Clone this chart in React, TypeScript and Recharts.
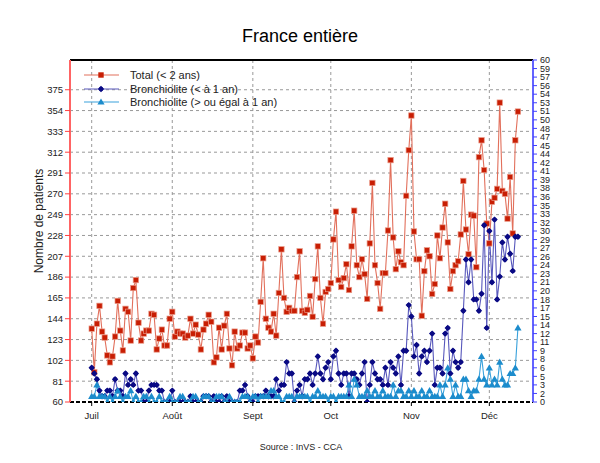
import React from 'react';
import { ComposedChart, Line, XAxis, YAxis, CartesianGrid, ReferenceLine } from 'recharts';

const FONT = "'Liberation Sans', Arial, Helvetica, sans-serif";

// Daily values from 1 July onward (one value per day)
const totalMoins2Ans = [
  134, 90, 139, 157, 131, 125, 107, 100, 106, 126,
  162, 132, 112, 154, 151, 122, 175, 183, 140, 122,
  129, 132, 132, 149, 148, 113, 124, 133, 117, 117,
  144, 151, 126, 131, 129, 129, 125, 127, 144, 129,
  138, 128, 113, 133, 139, 148, 141, 100, 105, 135,
  113, 137, 149, 114, 97, 131, 114, 117, 130, 130,
  114, 117, 104, 126, 120, 161, 205, 144, 135, 131,
  149, 127, 170, 214, 165, 151, 155, 152, 152, 186,
  212, 152, 150, 153, 167, 146, 184, 217, 165, 139,
  171, 174, 180, 224, 252, 183, 176, 185, 199, 173,
  217, 253, 198, 186, 204, 189, 164, 220, 281, 198,
  180, 154, 190, 190, 233, 304, 226, 194, 212, 201,
  198, 268, 314, 349, 232, 204, 204, 147, 192, 213,
  207, 169, 179, 228, 205, 236, 260, 221, 174, 192,
  198, 202, 229, 283, 234, 209, 249, 248, 196, 307,
  324, 294, 240, 220, 262, 266, 275, 362, 273, 270,
  245, 287, 230, 324, 353,
];

const bronchioliteMoins1An = [
  6, 5, 4, 2, 1, 1, 2, 2, 1, 4, 2, 2, 1, 5, 3, 4, 3, 5, 2, 2, 0, 0, 2, 3, 3, 3, 2, 2, 0, 0, 0,
  2, 0, 0, 0, 0, 0, 0, 1, 0, 0, 0, 0, 1, 1, 1, 0, 1, 0, 0, 1, 0, 1, 0, 0, 0, 0, 2, 2, 3, 1, 0,
  0, 1, 1, 1, 1, 2, 1, 1, 1, 4, 2, 3, 3, 7, 5, 5, 0, 2, 3, 1, 4, 4, 5, 3, 5, 8, 5, 4, 6, 7,
  4, 8, 9, 5, 3, 5, 5, 1, 5, 5, 4, 3, 5, 7, 0, 3, 7, 5, 4, 4, 3, 6, 3, 7, 6, 5, 8, 3, 9, 9, 17,
  15, 8, 10, 5, 8, 9, 7, 9, 12, 3, 6, 6, 5, 12, 13, 5, 9, 7, 6, 7, 16, 25, 21, 25, 18, 18, 16, 19, 31, 13,
  30, 21, 32, 18, 22, 28, 25, 29, 26, 23, 29, 29,
];

const bronchiolitePlus1An = [
  1, 1, 3, 1, 1, 1, 0, 1, 0, 1, 2, 1, 0, 1, 1, 2, 0, 1, 0, 0, 1, 1, 0, 1, 0, 0, 1, 0, 0, 0, 1,
  0, 0, 0, 1, 1, 0, 0, 0, 1, 1, 0, 0, 1, 1, 1, 0, 0, 1, 1, 1, 0, 0, 1, 0, 0, 0, 0, 1, 1, 1, 0,
  1, 1, 0, 1, 1, 1, 1, 2, 2, 1, 1, 0, 0, 1, 1, 1, 0, 1, 1, 1, 1, 1, 0, 1, 1, 2, 1, 1, 1, 0,
  1, 1, 0, 1, 1, 1, 1, 3, 1, 4, 3, 1, 1, 1, 2, 1, 1, 2, 1, 1, 2, 1, 1, 1, 3, 1, 2, 2, 1, 1, 2,
  1, 2, 1, 1, 2, 1, 1, 2, 1, 1, 1, 3, 1, 3, 6, 4, 1, 3, 1, 1, 4, 4, 2, 1, 2, 2, 4, 8, 4, 3,
  6, 3, 4, 3, 7, 4, 3, 3, 5, 5, 6, 13,
];

const monthLabels = ['Juil', 'Août', 'Sept', 'Oct', 'Nov', 'Déc'];
const monthStartDays = [1, 32, 63, 93, 124, 154];

const leftTicks = [60, 81, 102, 123, 144, 165, 186, 207, 228, 249, 270, 291, 312, 333, 354, 375];
const rightTicks = [
  0, 1.5, 3, 4.5, 6, 7.5, 9, 10.5, 12, 13.5, 15, 16.5, 18, 19.5, 21, 22.5, 24, 25.5, 27, 28.5,
  30, 31.5, 33, 34.5, 36, 37.5, 39, 40.5, 42, 43.5, 45, 46.5, 48, 49.5, 51, 52.5, 54, 55.5, 57, 58.5, 60,
];

const data = totalMoins2Ans.map((t, i) => ({
  day: i + 1,
  total: t,
  lt1: bronchioliteMoins1An[i],
  ge1: bronchiolitePlus1An[i],
}));

const RED_LINE = '#e2705c';
const RED_MARK = '#c81e04';
const NAVY_LINE = '#5858bc';
const NAVY_MARK = '#0a0a84';
const CYAN_LINE = '#3aa2dc';
const CYAN_MARK = '#1c8ccc';

const squareDot = (p: any) => {
  if (p.cx == null || p.cy == null) return <g key={'s' + p.index} />;
  return (
    <rect key={'s' + p.index} x={p.cx - 2.7} y={p.cy - 2.7} width={5.4} height={5.4}
      fill={RED_MARK} stroke="#ea9a88" strokeWidth={0.7} />
  );
};

const navyDot = (p: any) => {
  if (p.cx == null || p.cy == null) return <g key={'n' + p.index} />;
  const { cx, cy } = p;
  return (
    <g key={'n' + p.index}>
      <path d={`M${cx},${cy - 3.2} L${cx + 3.2},${cy} L${cx},${cy + 3.2} L${cx - 3.2},${cy} Z`} fill={NAVY_MARK} />
      <circle cx={cx} cy={cy} r={2.2} fill={NAVY_MARK} />
    </g>
  );
};

const triDot = (p: any) => {
  if (p.cx == null || p.cy == null) return <g key={'c' + p.index} />;
  const { cx, cy } = p;
  return (
    <path key={'c' + p.index} d={`M${cx},${cy - 3.6} L${cx + 3.6},${cy + 2.6} L${cx - 3.6},${cy + 2.6} Z`} fill={CYAN_MARK} />
  );
};

export default function App() {
  return (
    <div style={{ position: 'absolute', left: 0, top: 0, width: 600, height: 463, background: '#fff' }}>
      <ComposedChart width={600} height={463} data={data}
        margin={{ top: 60, right: 27, bottom: 31, left: 30 }}>
        <CartesianGrid yAxisId="left" stroke="#999" strokeDasharray="3 3" />
        <XAxis dataKey="day" type="number" domain={[-7.35, 170.8]} allowDataOverflow
          ticks={monthStartDays} interval={0}
          tickFormatter={(v: number) => monthLabels[monthStartDays.indexOf(v)]}
          height={30} tickSize={4} tickMargin={6}
          axisLine={{ stroke: '#000', strokeWidth: 2, strokeDasharray: '4 2' }}
          tickLine={{ stroke: '#000' }}
          tick={{ fontSize: 9.5, fill: '#222', fontFamily: FONT }} />
        <YAxis yAxisId="left" orientation="left" domain={[60, 405]} allowDataOverflow
          ticks={leftTicks} interval={0} width={40} tickSize={5} tickMargin={2}
          axisLine={{ stroke: '#ff6464', strokeWidth: 2 }}
          tickLine={{ stroke: '#ff4040' }}
          tick={{ fontSize: 9.5, fill: '#222', fontFamily: FONT }} />
        <YAxis yAxisId="right" orientation="right" domain={[0, 60]} allowDataOverflow
          ticks={rightTicks} interval={0} width={40} tickSize={4} tickMargin={3}
          tickFormatter={(v: number) => String(Math.round(v))}
          axisLine={{ stroke: '#6464ff', strokeWidth: 2 }}
          tickLine={{ stroke: '#4040ff' }}
          tick={{ fontSize: 9, fill: '#222', fontFamily: FONT }} />
        <ReferenceLine yAxisId="left" y={405} stroke="#000" strokeWidth={2} ifOverflow="visible" />
        <Line yAxisId="left" type="linear" dataKey="total" stroke={RED_LINE} strokeWidth={1.1}
          dot={squareDot} activeDot={false} isAnimationActive={false} />
        <Line yAxisId="right" type="linear" dataKey="lt1" stroke={NAVY_LINE} strokeWidth={1.1}
          dot={navyDot} activeDot={false} isAnimationActive={false} />
        <Line yAxisId="right" type="linear" dataKey="ge1" stroke={CYAN_LINE} strokeWidth={1.1}
          dot={triDot} activeDot={false} isAnimationActive={false} />
      </ComposedChart>
      <svg width={600} height={463} style={{ position: 'absolute', left: 0, top: 0, pointerEvents: 'none' }}>
        <text x={300} y={36} textAnchor="middle" dominantBaseline="central" fontSize={18} fontFamily={FONT} fill="#000">France entière</text>
        <text x={39} y={221} transform="rotate(-90 39 221)" textAnchor="middle" dominantBaseline="central" fontSize={12} fontFamily={FONT} fill="#222">Nombre de patients</text>
        <text x={301} y={447} textAnchor="middle" dominantBaseline="central" fontSize={9} fontFamily={FONT} fill="#222">Source : InVS - CCA</text>
        <g fontFamily={FONT} fontSize={11} fill="#222">
          <line x1={84} x2={119} y1={75} y2={75} stroke={RED_LINE} strokeWidth={1.2} />
          <rect x={98.3} y={72.3} width={5.4} height={5.4} fill={RED_MARK} />
          <text x={130} y={75} dominantBaseline="central">Total (&lt; 2 ans)</text>
          <line x1={84} x2={119} y1={89} y2={89} stroke={NAVY_LINE} strokeWidth={1.2} />
          <path d="M101,85.8 L104.2,89 L101,92.2 L97.8,89 Z" fill={NAVY_MARK} />
          <circle cx={101} cy={89} r={2.2} fill={NAVY_MARK} />
          <text x={130} y={89} dominantBaseline="central">Bronchiolite (&lt; à 1 an)</text>
          <line x1={84} x2={119} y1={102} y2={102} stroke={CYAN_LINE} strokeWidth={1.2} />
          <path d="M101,98.4 L104.6,104.6 L97.4,104.6 Z" fill={CYAN_MARK} />
          <text x={130} y={102} dominantBaseline="central">Bronchiolite (&gt; ou égal à 1 an)</text>
        </g>
      </svg>
    </div>
  );
}
